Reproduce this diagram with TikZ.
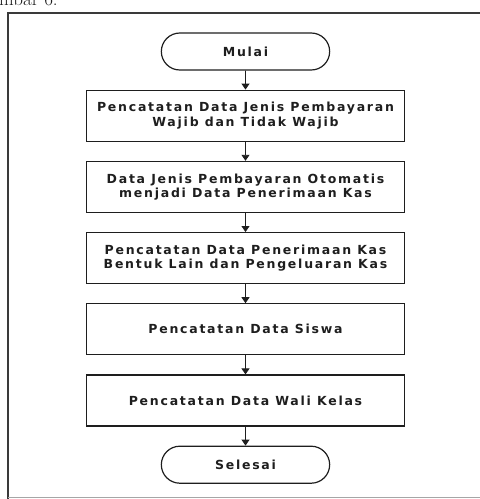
\documentclass[tikz,border=0pt]{standalone}
\usepackage{fontspec}
\newfontfamily\flowfont{DejaVu Sans}[LetterSpace=14]
\usetikzlibrary{shapes.misc, arrows.meta, positioning}
\definecolor{inkGray}{HTML}{1E1E1E}
\definecolor{frameGray}{HTML}{3A3A3A}

\begin{document}
\begin{tikzpicture}[x=1pt, y=-1pt, node distance=19pt,
    proses/.style={draw=inkGray, line width=1.2pt, minimum width=318pt, minimum height=51pt,
        align=center, text=inkGray, font=\flowfont\bfseries\fontsize{12.5}{14.5}\selectfont},
    terminal/.style={rounded rectangle, draw=inkGray, line width=1.2pt, minimum width=175pt,
        minimum height=37pt, text=inkGray, font=\flowfont\bfseries\fontsize{12.5}{14.5}\selectfont},
    alur/.style={draw=inkGray, line width=0.9pt, -{Triangle[width=8pt, length=6pt]}}]
        \useasboundingbox (0,0) rectangle (480,499);

        % Caption cut off by the scan
        \node[anchor=base west, inner sep=0pt, text=inkGray, font=\fontsize{19}{20}\selectfont] (judul) at (-1, 5.5) {mbar 6.};

        % Outer frame
        \draw[frameGray, line width=1.3pt] (480,13) -- (8,13) -- (8,499);
        \draw[frameGray!45, line width=1pt] (8,497) -- (480,497);

        % Start
        \node[terminal] (mulai) at (245.5, 51.5) {Mulai};

        % Steps
        \node[proses, below=of mulai] (catatJenis) {Pencatatan Data Jenis Pembayaran\\Wajib dan Tidak Wajib};
        \node[proses, below=of catatJenis] (otomatis) {Data Jenis Pembayaran Otomatis\\menjadi Data Penerimaan Kas};
        \node[proses, below=of otomatis] (kasLain) {Pencatatan Data Penerimaan Kas\\Bentuk Lain dan Pengeluaran Kas};
        \node[proses, below=of kasLain] (siswa) {Pencatatan Data Siswa};
        \node[proses, below=of siswa] (waliKelas) {Pencatatan Data Wali Kelas};

        % End
        \node[terminal, below=of waliKelas] (selesai) {Selesai};

        % Flow
        \draw[alur] (mulai) -- (catatJenis);
        \draw[alur] (catatJenis) -- (otomatis);
        \draw[alur] (otomatis) -- (kasLain);
        \draw[alur] (kasLain) -- (siswa);
        \draw[alur] (siswa) -- (waliKelas);
        \draw[alur] (waliKelas) -- (selesai);
    \end{tikzpicture}
\end{document}
